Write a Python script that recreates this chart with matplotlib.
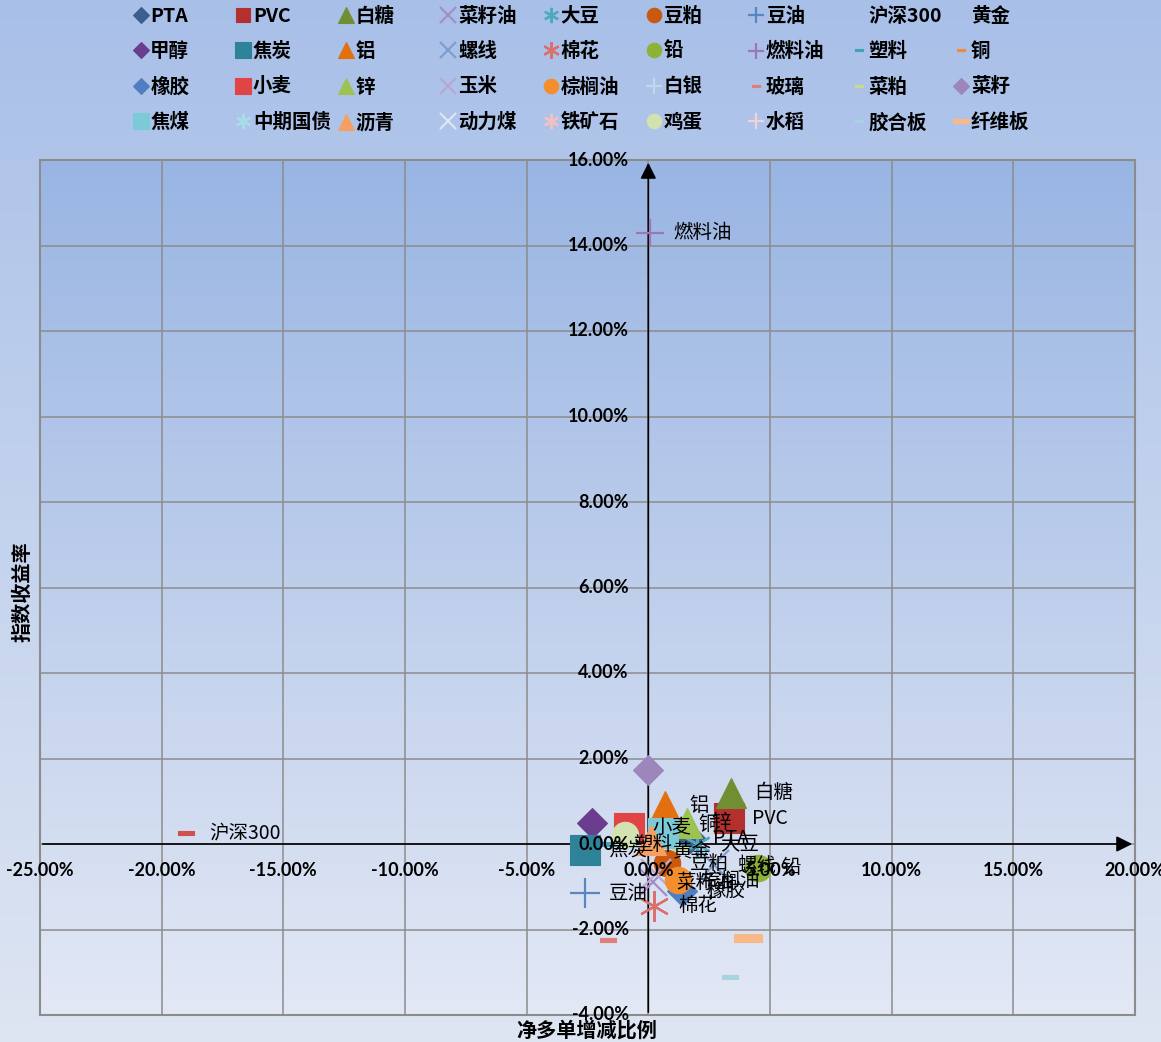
import numpy as np
import matplotlib
matplotlib.use("Agg")
import matplotlib.pyplot as plt
from matplotlib.patches import Rectangle

plt.rcParams['font.family'] = ['Noto Sans CJK SC', 'DejaVu Sans']

# 品种名称(按图例的行顺序)
names = ['PTA', 'PVC', '白糖', '菜籽油', '大豆', '豆粕', '豆油', '沪深300', '黄金',
         '甲醇', '焦炭', '铝', '螺线', '棉花', '铅', '燃料油', '塑料', '铜',
         '橡胶', '小麦', '锌', '玉米', '棕榈油', '白银', '玻璃', '菜粕', '菜籽',
         '焦煤', '中期国债', '沥青', '动力煤', '铁矿石', '鸡蛋', '水稻', '胶合板', '纤维板']

# 净多单增减比例 (%)
x_vals = [1.7, 3.3, 3.4, 0.2, 2.0, 0.75, -2.6, -19.0, 0.05,
          -2.3, -2.6, 0.7, 2.7, 0.25, 4.5, 0.05, -1.6, 1.07,
          1.4, -0.8, 1.6, 0.3, 1.2, 0.4, -1.65, 1.3, 0.0,
          0.6, np.nan, 0.1, np.nan, np.nan, -0.95, np.nan, 3.37, 4.1]

# 指数收益率 (%)
y_vals = [0.14, 0.6, 1.2, -0.9, 0.0, -0.45, -1.15, 0.25, -0.15,
          0.5, -0.15, 0.9, -0.5, -1.45, -0.55, 14.3, 0.0, 0.45,
          -1.1, 0.38, 0.5, -0.7, -0.85, 0.1, -2.25, -0.1, 1.73,
          0.25, np.nan, 0.1, np.nan, np.nan, 0.2, np.nan, -3.11, -2.2]

labeled = ['燃料油', '沪深300', '豆油', '棉花', '白糖', 'PVC', '铝', '小麦', '锌', '铜',
           'PTA', '大豆', '塑料', '焦炭', '黄金', '豆粕', '螺线', '棕榈油', '橡胶',
           '菜籽油', '铅']

# 标记样式
dash = [(-1, -0.3), (1, -0.3), (1, 0.3), (-1, 0.3), (-1, -0.3)]
star = (6, 2, 0)
markers = ['D', 's', '^', 'x', star, 'o', '+', dash, 'none',
           'D', 's', '^', 'x', star, 'o', '+', dash, dash,
           'D', 's', '^', 'x', 'o', '+', dash, dash, 'D',
           's', star, '^', 'x', star, 'o', '+', dash, dash]
colors = ['#3B5E8E', '#B3302E', '#6F8F32', '#A48FC2', '#4FA9BE', '#C9590F', '#5A86BE', '#D0504E', '#000000',
          '#6A3D8E', '#2F8398', '#E2700E', '#7D9DD0', '#D9706C', '#8CB238', '#9A78B8', '#3FA2BA', '#F08A3A',
          '#4F7FC0', '#E04444', '#9CC252', '#B9A6D2', '#F38E2C', '#C4D6EE', '#E07E7A', '#C6DB8E', '#9C86BC',
          '#7CCAD8', '#A8DDE8', '#F5A062', '#DDE6F3', '#F2C2C0', '#D2E2B0', '#F0D2DA', '#A7D4DE', '#F8B888']
sizes = [15, 21, 22, 20, 20, 19, 21, 11, 1,
         15, 21, 22, 22, 22, 19, 20, 11, 11,
         15, 21, 22, 22, 19, 22, 11, 11, 15,
         21, 20, 22, 20, 20, 19, 22, 11, 20]

fig = plt.figure(figsize=(11.61, 10.42), dpi=100)

# 背景渐变
bg = fig.add_axes([0, 0, 1, 1], zorder=-10)
grad = np.linspace(0, 1, 256).reshape(-1, 1)
c_top = np.array([0.66, 0.75, 0.91])
c_bot = np.array([0.87, 0.90, 0.95])
bg.imshow(c_top + (c_bot - c_top) * grad[:, :, None], aspect='auto', extent=[0, 1, 0, 1])
bg.axis('off')

ax = fig.add_axes([40 / 1161, 1 - 1015 / 1042, 1095 / 1161, 855 / 1042])
ax.patch.set_alpha(0)
p_top = np.array([0.60, 0.71, 0.89])
p_bot = np.array([0.89, 0.91, 0.96])
ax.imshow(p_top + (p_bot - p_top) * grad[:, :, None], aspect='auto', extent=[0, 1, 0, 1],
          transform=ax.transAxes, zorder=0)

ax.set_xlim(-25, 20)
ax.set_ylim(-4, 16)
ax.set_xticks(np.arange(-25, 21, 5))
ax.set_yticks(np.arange(-4, 17, 2))
ax.grid(True, color='#8C8C8C', linewidth=1.1, zorder=1)
ax.set_axisbelow(True)

for s in ax.spines.values():
    s.set_visible(False)
ax.add_patch(Rectangle((0, 0), 1, 1, transform=ax.transAxes, fill=False,
                       edgecolor='#8C8C8C', linewidth=1.5, zorder=2, clip_on=False))

# 坐标轴箭头
ax.annotate('', xy=(20, 0), xytext=(-25, 0),
            arrowprops=dict(arrowstyle='-|>', color='black', lw=1.2, mutation_scale=24), zorder=3)
ax.annotate('', xy=(0, 16), xytext=(0, -4),
            arrowprops=dict(arrowstyle='-|>', color='black', lw=1.2, mutation_scale=24), zorder=3)

ax.tick_params(length=0, labelbottom=False, labelleft=False)
for v in np.arange(-25, 21, 5):
    ax.text(v, -0.62, '%.2f%%' % v, ha='center', va='center', fontsize=13,
            fontweight='bold', family=['Lato', 'DejaVu Sans'], zorder=6)
for v in np.arange(-4, 17, 2):
    ax.text(-0.8, v, '%.2f%%' % v, ha='right', va='center', fontsize=13,
            fontweight='bold', family=['Lato', 'DejaVu Sans'], zorder=6)

handles = []
for i, n in enumerate(names):
    m = markers[i]
    c = colors[i]
    if m in ('x', '+') or m == star:
        kw = dict(color=c, markeredgewidth=1.6)
    else:
        kw = dict(markerfacecolor=c, markeredgecolor=c, markeredgewidth=0.8)
    h, = ax.plot([x_vals[i]], [y_vals[i]], linestyle='none', marker=m if m != 'none' else None,
                 markersize=sizes[i], zorder=4 + i * 0.01, **kw)
    handles.append(h)
    if n in labeled and not np.isnan(x_vals[i]):
        ax.annotate(n, (x_vals[i], y_vals[i]), xytext=(17, 0), textcoords='offset points',
                    ha='left', va='center', fontsize=14, zorder=5)

# 图例: 4行9列, 每列单独放置以保持等宽
for c in range(9):
    idx = [r * 9 + c for r in range(4)]
    hs = [handles[k] for k in idx]
    leg = fig.legend(hs, [names[k] for k in idx], loc='upper left',
                     bbox_to_anchor=((123 + 102.6 * c) / 1161, 1 + 3 / 1042),
                     frameon=False, fontsize=14, markerscale=0.55, handlelength=0.8,
                     handletextpad=0.1, labelspacing=0.84, borderpad=0.0)
    for k, t, h in zip(idx, leg.get_texts(), leg.legend_handles):
        t.set_fontweight('bold')
        if names[k] == 'PVC':
            h.set_markersize(10)
        if names[k] in ('沪深300', '黄金'):
            h.set_visible(False)

fig.text(587 / 1161, 1 - 1030 / 1042, '净多单增减比例', ha='center', va='center',
         fontsize=14.5, fontweight='bold')
fig.text(22 / 1161, 1 - 592 / 1042, '指数收益率', ha='center', va='center',
         fontsize=14.5, fontweight='bold', rotation=90)

fig.savefig('out.png', dpi=100)
